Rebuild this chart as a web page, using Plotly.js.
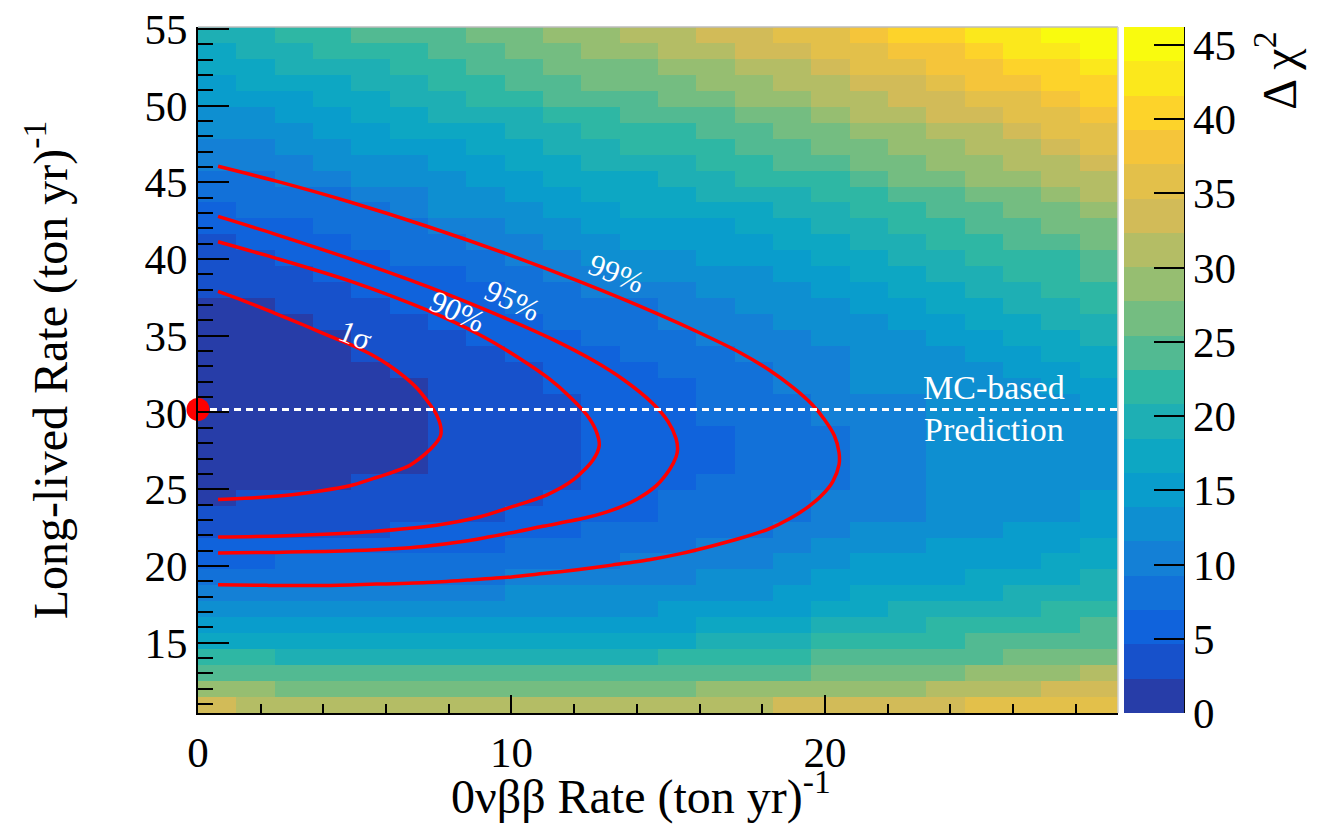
<!DOCTYPE html>
<html>
<head>
<meta charset="utf-8">
<script src="https://cdn.plot.ly/plotly-3.0.1.min.js"></script>
<style>
  html, body { margin: 0; padding: 0; background: #ffffff; }
  #chart { width: 1317px; height: 827px; }
</style>
</head>
<body>
<div id="chart"></div>
<script>
// Scan grid: bin centres of the 0vbb rate (columns) and long-lived rate (rows, top to bottom)
const rate0vbb = [0.61, 1.83, 3.06, 4.28, 5.50, 6.73, 7.95, 9.17, 10.40, 11.62, 12.84, 14.06,
                  15.29, 16.51, 17.73, 18.96, 20.18, 21.40, 22.62, 23.85, 25.07, 26.29, 27.52, 28.74];
const rateLongLived = [54.61, 53.57, 52.53, 51.49, 50.45, 49.41, 48.37, 47.33, 46.29, 45.25, 44.21,
                       43.17, 42.13, 41.09, 40.05, 39.01, 37.97, 36.93, 35.89, 34.85, 33.81, 32.77,
                       31.73, 30.69, 29.65, 28.61, 27.57, 26.53, 25.49, 24.45, 23.41, 22.37, 21.33,
                       20.29, 19.25, 18.21, 17.17, 16.13, 15.09, 14.05, 13.01, 11.97, 10.93];

// Delta chi^2 in each bin, one row per long-lived rate value
const deltaChi2 = [
  [19.6,19.6,21.9,21.9,24.3,24.3,24.3,26.6,26.6,28.9,28.9,31.2,31.2,33.5,33.5,35.8,35.8,38.1,40.4,40.4,42.7,42.7,45.0,45.0],
  [17.3,19.6,19.6,21.9,21.9,21.9,24.3,24.3,26.6,26.6,28.9,28.9,31.2,31.2,33.5,33.5,35.8,35.8,38.1,38.1,40.4,42.7,42.7,45.0],
  [17.3,17.3,19.6,19.6,19.6,21.9,21.9,24.3,24.3,26.6,26.6,26.6,28.9,28.9,31.2,31.2,33.5,35.8,35.8,38.1,38.1,40.4,40.4,42.7],
  [15.0,17.3,17.3,17.3,19.6,19.6,21.9,21.9,24.3,24.3,26.6,26.6,26.6,28.9,28.9,31.2,31.2,33.5,33.5,35.8,38.1,38.1,40.4,40.4],
  [15.0,15.0,15.0,17.3,17.3,19.6,19.6,21.9,21.9,24.3,24.3,24.3,26.6,26.6,28.9,28.9,31.2,31.2,33.5,33.5,35.8,35.8,38.1,40.4],
  [12.7,12.7,15.0,15.0,17.3,17.3,19.6,19.6,19.6,21.9,21.9,24.3,24.3,24.3,26.6,26.6,28.9,31.2,31.2,33.5,33.5,35.8,35.8,38.1],
  [12.7,12.7,12.7,15.0,15.0,17.3,17.3,17.3,19.6,19.6,21.9,21.9,21.9,24.3,24.3,26.6,26.6,28.9,28.9,31.2,31.2,33.5,35.8,35.8],
  [10.4,10.4,12.7,12.7,15.0,15.0,15.0,17.3,17.3,19.6,19.6,21.9,21.9,21.9,24.3,24.3,26.6,26.6,28.9,28.9,31.2,31.2,33.5,35.8],
  [10.4,10.4,10.4,12.7,12.7,12.7,15.0,15.0,17.3,17.3,19.6,19.6,19.6,21.9,21.9,24.3,24.3,26.6,26.6,28.9,28.9,31.2,31.2,33.5],
  [8.1,8.1,10.4,10.4,12.7,12.7,12.7,15.0,15.0,17.3,17.3,17.3,19.6,19.6,21.9,21.9,21.9,24.3,26.6,26.6,28.9,28.9,31.2,31.2],
  [8.1,8.1,8.1,8.1,10.4,10.4,12.7,12.7,15.0,15.0,17.3,17.3,17.3,19.6,19.6,19.6,21.9,21.9,24.3,24.3,26.6,26.6,28.9,31.2],
  [5.8,8.1,8.1,8.1,8.1,10.4,12.7,12.7,12.7,15.0,15.0,17.3,17.3,17.3,17.3,19.6,19.6,21.9,21.9,24.3,24.3,26.6,26.6,28.9],
  [5.8,5.8,5.8,8.1,8.1,8.1,10.4,10.4,12.7,12.7,15.0,15.0,15.0,15.0,17.3,17.3,19.6,19.6,21.9,21.9,24.3,24.3,26.6,26.6],
  [3.5,5.8,5.8,5.8,8.1,8.1,8.1,10.4,10.4,12.7,12.7,15.0,15.0,15.0,15.0,17.3,17.3,19.6,19.6,21.9,21.9,24.3,24.3,26.6],
  [3.5,3.5,5.8,5.8,5.8,8.1,8.1,8.1,10.4,10.4,12.7,12.7,12.7,15.0,15.0,15.0,17.3,17.3,19.6,19.6,21.9,21.9,21.9,24.3],
  [3.5,3.5,3.5,5.8,5.8,5.8,5.8,8.1,8.1,10.4,10.4,12.7,12.7,12.7,12.7,15.0,15.0,17.3,17.3,19.6,19.6,21.9,21.9,24.3],
  [3.5,3.5,3.5,3.5,5.8,5.8,5.8,5.8,8.1,8.1,10.4,10.4,10.4,12.7,12.7,12.7,15.0,15.0,17.3,17.3,19.6,19.6,21.9,21.9],
  [1.2,1.2,3.5,3.5,3.5,5.8,5.8,5.8,8.1,8.1,8.1,8.1,10.4,10.4,12.7,12.7,12.7,15.0,15.0,17.3,17.3,19.6,19.6,21.9],
  [1.2,1.2,1.2,3.5,3.5,3.5,5.8,5.8,5.8,8.1,8.1,8.1,10.4,10.4,10.4,12.7,12.7,12.7,15.0,15.0,17.3,17.3,19.6,19.6],
  [1.2,1.2,1.2,1.2,3.5,3.5,3.5,5.8,5.8,5.8,8.1,8.1,8.1,10.4,10.4,10.4,12.7,12.7,12.7,15.0,15.0,17.3,17.3,19.6],
  [1.2,1.2,1.2,1.2,3.5,3.5,3.5,3.5,5.8,5.8,5.8,8.1,8.1,8.1,10.4,10.4,10.4,12.7,12.7,12.7,15.0,15.0,17.3,17.3],
  [1.2,1.2,1.2,1.2,1.2,3.5,3.5,3.5,3.5,5.8,5.8,5.8,8.1,8.1,8.1,10.4,10.4,12.7,12.7,12.7,12.7,15.0,15.0,17.3],
  [1.2,1.2,1.2,1.2,1.2,1.2,3.5,3.5,3.5,5.8,5.8,5.8,5.8,8.1,8.1,10.4,10.4,12.7,12.7,12.7,12.7,12.7,15.0,15.0],
  [1.2,1.2,1.2,1.2,1.2,1.2,3.5,3.5,3.5,3.5,5.8,5.8,5.8,8.1,8.1,8.1,10.4,10.4,10.4,12.7,12.7,12.7,12.7,15.0],
  [1.2,1.2,1.2,1.2,1.2,1.2,3.5,3.5,3.5,3.5,5.8,5.8,5.8,8.1,8.1,8.1,10.4,10.4,10.4,12.7,12.7,12.7,12.7,12.7],
  [1.2,1.2,1.2,1.2,1.2,1.2,3.5,3.5,3.5,3.5,5.8,5.8,5.8,5.8,8.1,8.1,8.1,10.4,10.4,12.7,12.7,12.7,12.7,12.7],
  [1.2,1.2,1.2,1.2,1.2,1.2,3.5,3.5,3.5,3.5,5.8,5.8,5.8,5.8,8.1,8.1,8.1,10.4,10.4,12.7,12.7,12.7,12.7,12.7],
  [1.2,1.2,1.2,1.2,1.2,1.2,3.5,3.5,3.5,3.5,5.8,5.8,5.8,5.8,8.1,8.1,8.1,10.4,10.4,12.7,12.7,12.7,12.7,12.7],
  [1.2,1.2,1.2,1.2,3.5,3.5,3.5,3.5,3.5,3.5,5.8,5.8,5.8,8.1,8.1,8.1,8.1,10.4,10.4,12.7,12.7,12.7,12.7,12.7],
  [1.2,3.5,3.5,3.5,3.5,3.5,3.5,3.5,3.5,5.8,5.8,5.8,8.1,8.1,8.1,8.1,10.4,10.4,10.4,12.7,12.7,12.7,12.7,15.0],
  [3.5,3.5,3.5,3.5,3.5,3.5,3.5,3.5,5.8,5.8,5.8,5.8,8.1,8.1,8.1,8.1,10.4,10.4,10.4,12.7,12.7,12.7,12.7,15.0],
  [3.5,3.5,3.5,3.5,3.5,5.8,5.8,5.8,5.8,5.8,8.1,8.1,8.1,8.1,8.1,10.4,10.4,12.7,12.7,12.7,12.7,15.0,15.0,15.0],
  [5.8,5.8,5.8,5.8,5.8,5.8,5.8,5.8,8.1,8.1,8.1,8.1,8.1,10.4,10.4,10.4,12.7,12.7,12.7,15.0,15.0,15.0,15.0,17.3],
  [5.8,5.8,8.1,8.1,8.1,8.1,8.1,8.1,8.1,8.1,8.1,10.4,10.4,10.4,10.4,12.7,12.7,15.0,15.0,15.0,15.0,15.0,17.3,17.3],
  [8.1,8.1,8.1,8.1,8.1,8.1,8.1,8.1,10.4,10.4,10.4,10.4,10.4,12.7,12.7,12.7,15.0,15.0,15.0,15.0,17.3,17.3,17.3,19.6],
  [10.4,10.4,10.4,10.4,10.4,10.4,10.4,10.4,12.7,12.7,12.7,12.7,12.7,12.7,12.7,15.0,15.0,17.3,17.3,17.3,17.3,19.6,19.6,19.6],
  [12.7,12.7,12.7,12.7,12.7,12.7,12.7,12.7,12.7,12.7,12.7,12.7,15.0,15.0,15.0,15.0,17.3,17.3,19.6,19.6,19.6,19.6,21.9,21.9],
  [15.0,15.0,15.0,15.0,15.0,15.0,15.0,15.0,15.0,15.0,15.0,15.0,15.0,17.3,17.3,17.3,19.6,19.6,19.6,21.9,21.9,21.9,21.9,24.3],
  [17.3,17.3,17.3,17.3,17.3,17.3,17.3,17.3,17.3,17.3,17.3,17.3,17.3,19.6,19.6,19.6,21.9,21.9,21.9,21.9,24.3,24.3,24.3,24.3],
  [21.9,21.9,19.6,19.6,19.6,19.6,19.6,19.6,19.6,19.6,19.6,19.6,21.9,21.9,21.9,21.9,24.3,24.3,24.3,24.3,24.3,26.6,26.6,26.6],
  [24.3,24.3,24.3,24.3,24.3,24.3,24.3,24.3,24.3,24.3,24.3,24.3,24.3,24.3,24.3,24.3,26.6,26.6,26.6,26.6,28.9,28.9,28.9,31.2],
  [28.9,28.9,26.6,26.6,26.6,26.6,26.6,26.6,26.6,26.6,26.6,26.6,26.6,28.9,28.9,28.9,28.9,28.9,28.9,31.2,31.2,31.2,33.5,33.5],
  [33.5,31.2,31.2,31.2,31.2,31.2,31.2,31.2,31.2,31.2,31.2,31.2,31.2,31.2,31.2,33.5,33.5,33.5,33.5,33.5,35.8,35.8,35.8,35.8]
];

// Confidence-region contours (0vbb rate, long-lived rate)
const sigma1X = [0.64,1.5,2.44,3.35,4.24,5.0,5.6,6.15,6.6,7.0,7.3,7.58,7.74,7.74,7.55,7.25,6.75,6.2,5.6,4.84,3.9,3.0,1.8,0.64];
const sigma1Y = [37.89,37.25,36.48,35.72,34.95,34.3,33.7,33.0,32.3,31.55,30.8,29.97,29.1,28.5,27.9,27.3,26.55,26.1,25.7,25.22,24.88,24.64,24.44,24.32];
const cl90X = [0.64,2.5,4.88,7.33,9.0,10.2,11.2,11.9,12.4,12.7,12.8,12.6,12.0,11.1,10.0,9.0,7.6,5.6,2.8,0.64];
const cl90Y = [41.13,40.05,38.55,36.65,35.05,33.6,32.2,30.95,29.85,28.8,27.85,26.9,25.65,24.6,23.85,23.2,22.65,22.25,21.97,21.88];
const cl95X = [0.64,2.5,4.88,7.33,9.8,11.33,12.6,13.6,14.5,15.0,15.25,15.3,15.25,15.05,14.63,14.0,13.3,12.4,11.0,9.95,8.5,7.2,5.0,2.5,0.64];
const cl95Y = [42.78,41.6,40.0,38.2,36.15,34.75,33.4,32.1,30.6,29.4,28.3,27.6,27.1,26.3,25.25,24.35,23.7,23.15,22.58,22.14,21.6,21.27,21.0,20.88,20.84];
const cl99X = [0.64,2.5,4.9,7.3,9.8,12.1,14.7,16.0,17.3,18.2,19.0,19.6,20.0,20.3,20.45,20.45,20.25,19.9,19.5,18.9,18.2,17.3,16.4,15.4,14.4,13.2,12.1,11.0,10.0,8.6,7.3,5.5,4.0,2.2,0.64];
const cl99Y = [46.05,45.08,43.69,42.14,40.37,38.59,36.4,35.2,33.9,32.8,31.6,30.5,29.5,28.5,27.4,26.6,25.5,24.6,23.9,23.1,22.4,21.8,21.3,20.8,20.4,20.05,19.75,19.5,19.28,19.08,18.92,18.8,18.72,18.73,18.77];

// MC-based prediction of the long-lived rate, at zero 0vbb rate
const mcPredictionRate = 30.2;
const rate0vbbRange = [0, 29.35];
const rateLongLivedRange = [10.41, 55.13];
const chi2Range = [0, 46.2];

// Colour steps of the bird palette, one per contour band
const birdSteps = ['#273DA8','#1751CB','#1063DC','#1271D9','#1480D6','#0E8FD1','#099DCC','#0DA7C3',
                   '#1EAFB4','#2EB7A4','#52BA92','#74BD81','#96BE71','#B4BD65','#D2BB58','#E3C04A',
                   '#F5C53A','#FDD32A','#FBE81C','#F9FB0E'];
const bandScale = [];
birdSteps.forEach((c, k) => {
  bandScale.push([k / birdSteps.length, c]);
  bandScale.push([(k + 1) / birdSteps.length, c]);
});

const FONT = 'Liberation Serif, Times New Roman, serif';
const RED = '#ff0000';

const contourLine = (x, y) => ({
  type: 'scatter', mode: 'lines', x: x, y: y,
  line: { color: RED, width: 3.5, shape: 'spline', smoothing: 0.8 },
  hoverinfo: 'skip', showlegend: false
});

const traces = [
  {
    type: 'heatmap', x: rate0vbb, y: rateLongLived, z: deltaChi2,
    zmin: chi2Range[0], zmax: chi2Range[1], zsmooth: false,
    colorscale: bandScale, hoverinfo: 'skip',
    colorbar: {
      x: 1.0065, xanchor: 'left', xpad: 0, ypad: 0,
      y: 0.5, yanchor: 'middle', len: 1, lenmode: 'fraction',
      thickness: 60, thicknessmode: 'pixels', outlinewidth: 0,
      tickmode: 'linear', tick0: 0, dtick: 5,
      ticks: 'inside', ticklen: 30, tickwidth: 2, tickcolor: '#000',
      tickfont: { family: FONT, size: 43, color: '#000' }
    }
  },
  contourLine(sigma1X, sigma1Y),
  contourLine(cl90X, cl90Y),
  contourLine(cl95X, cl95Y),
  contourLine(cl99X, cl99Y),
  {
    type: 'scatter', mode: 'lines', x: rate0vbbRange, y: [mcPredictionRate, mcPredictionRate],
    line: { color: '#ffffff', width: 3, dash: '7px,5px' },
    hoverinfo: 'skip', showlegend: false
  },
  {
    type: 'scatter', mode: 'markers', x: [0], y: [mcPredictionRate],
    marker: { color: RED, size: 23 }, cliponaxis: false,
    hoverinfo: 'skip', showlegend: false
  }
];

const labelFont = { family: FONT, size: 31, color: '#ffffff' };
const cl = (text, x, y, angle) => ({
  text: text, x: x, y: y, xref: 'x', yref: 'y', showarrow: false,
  xanchor: 'center', yanchor: 'middle', textangle: angle, font: labelFont
});

const layout = {
  width: 1317, height: 827,
  margin: { l: 198, r: 199, t: 27, b: 114, pad: 0 },
  paper_bgcolor: '#ffffff', plot_bgcolor: '#ffffff',
  showlegend: false,
  font: { family: FONT, color: '#000' },
  xaxis: {
    range: rate0vbbRange, tickmode: 'linear', tick0: 0, dtick: 10,
    ticks: 'inside', ticklen: 18, tickwidth: 2, tickcolor: '#000',
    minor: { tick0: 0, dtick: 2, ticks: 'inside', ticklen: 9, tickwidth: 2, tickcolor: '#000' },
    showline: true, linecolor: '#000', linewidth: 2, mirror: false,
    showgrid: false, zeroline: false,
    tickfont: { family: FONT, size: 43, color: '#000' }
  },
  yaxis: {
    range: rateLongLivedRange, tickmode: 'linear', tick0: 0, dtick: 5,
    ticks: 'inside', ticklen: 31, tickwidth: 2, tickcolor: '#000',
    minor: { tick0: 0, dtick: 1, ticks: 'inside', ticklen: 15, tickwidth: 2, tickcolor: '#000' },
    showline: true, linecolor: '#000', linewidth: 2, mirror: false,
    showgrid: false, zeroline: false,
    tickfont: { family: FONT, size: 43, color: '#000' },
    title: { text: 'Long-lived Rate (ton yr)<sup>-1</sup>', font: { family: FONT, size: 48, color: '#000' }, standoff: 62 }
  },
  shapes: [
    { type: 'line', xref: 'paper', yref: 'paper', x0: 0, x1: 1, y0: 1, y1: 1, line: { color: '#bdbdbd', width: 1.5 } },
    { type: 'line', xref: 'paper', yref: 'paper', x0: 1, x1: 1, y0: 0, y1: 1, line: { color: '#d0d0d0', width: 1.5 } },
    { type: 'line', xref: 'paper', yref: 'paper', x0: 1.0717, x1: 1.0717, y0: 0, y1: 1, line: { color: '#000', width: 2 } }
  ],
  annotations: [
    cl('1\u03c3', 5.04, 35.0, 22),
    cl('90%', 8.29, 36.57, 25),
    cl('95%', 10.04, 37.29, 25),
    cl('99%', 13.36, 39.05, 22),
    { text: 'MC-based', x: 25.4, y: 31.6, xref: 'x', yref: 'y', showarrow: false,
      xanchor: 'center', yanchor: 'middle', font: { family: FONT, size: 34, color: '#ffffff' } },
    { text: 'Prediction', x: 25.4, y: 28.9, xref: 'x', yref: 'y', showarrow: false,
      xanchor: 'center', yanchor: 'middle', font: { family: FONT, size: 34, color: '#ffffff' } },
    // x-axis title, set slightly left of the axis centre
    { text: '0\u03bd\u03b2\u03b2 Rate (ton yr)<sup>-1</sup>', x: 0.481, y: -0.118, xref: 'paper', yref: 'paper',
      showarrow: false, xanchor: 'center', yanchor: 'middle', font: { family: FONT, size: 48, color: '#000' } },
    { text: '\u0394 \u03c7<sup>2</sup>', x: 1.1717, y: 0.936, xref: 'paper', yref: 'paper', showarrow: false,
      xanchor: 'center', yanchor: 'middle', textangle: -90, font: { family: FONT, size: 48, color: '#000' } }
  ]
};

Plotly.newPlot('chart', traces, layout, { displayModeBar: false, staticPlot: true });
</script>
</body>
</html>
